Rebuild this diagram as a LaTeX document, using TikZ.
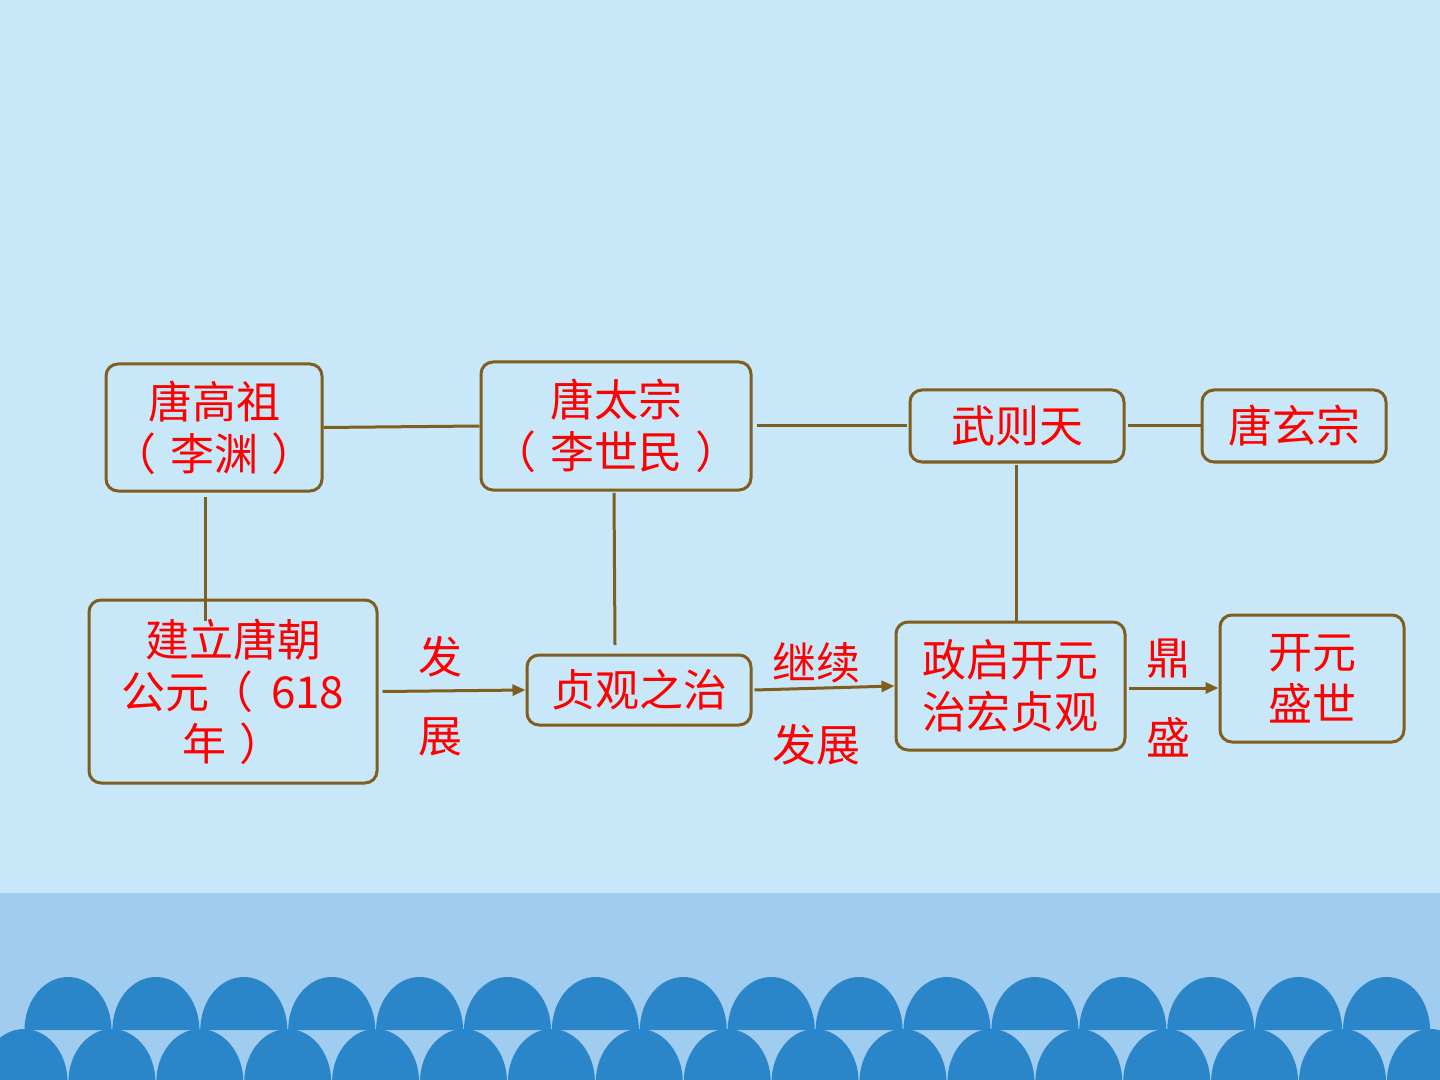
\documentclass[tikz,border=0pt]{standalone}
\usepackage{fontspec}
\newfontfamily\cjk{Noto Sans CJK SC}
\usetikzlibrary{arrows.meta}
\definecolor{bgtop}{HTML}{C8E8F9}
\definecolor{band}{HTML}{A0CDEF}
\definecolor{dome}{HTML}{2B86C9}
\definecolor{boxline}{HTML}{7F5F1F}
\definecolor{txtred}{HTML}{FF0000}
\newcommand{\pg}{\hspace{0.3em}}
\tikzset{
  box/.style={draw=boxline, line width=1.5pt, rounded corners=6pt, inner sep=0pt,
    align=center, text=txtred, font=\cjk\fontsize{22pt}{26pt}\selectfont},
  lbl/.style={inner sep=0pt, text=txtred, font=\cjk\fontsize{22pt}{26pt}\selectfont},
  conn/.style={draw=boxline, line width=1.5pt},
  arr/.style={conn, -{Triangle[length=6.5pt,width=5.5pt]}}
}
\begin{document}
\begin{tikzpicture}[x=0.5pt,y=-0.5pt]
\useasboundingbox (0,0) rectangle (1440,1080);
% background
\fill[bgtop] (0,0) rectangle (1440,893);
\fill[band] (0,893) rectangle (1440,1080);
\begin{scope}
\clip (0,0) rectangle (1440,1080);
\foreach \i in {0,...,15} {
  \fill[dome] ({68+87.9*\i-43.5},1030) arc[start angle=180,end angle=360,x radius=43.5,y radius=53] -- cycle;
}
\foreach \i in {-1,...,16} {
  \fill[dome] ({24+87.9*\i-43.5},1082) arc[start angle=180,end angle=360,x radius=43.5,y radius=53] -- cycle;
}
\end{scope}
% boxes
\node[box, minimum width=108pt, minimum height=63.5pt] (b1) at (214,427.5) {唐高祖\\（\pg 李渊\pg ）};
\node[box, minimum width=135pt, minimum height=64pt] (b2) at (616,426) {唐太宗\\（\pg 李世民\pg ）};
\node[box, minimum width=107pt, minimum height=36pt] (b3) at (1017,426) {武则天};
\node[box, minimum width=92pt, minimum height=36pt] (b4) at (1294,426) {唐玄宗};
\node[box, minimum width=144pt, minimum height=91.5pt] (b5) at (233,691.5) {建立唐朝\\公元（\hspace{0.4em}618\\年\pg ）};
\node[box, minimum width=112pt, minimum height=35pt] (b6) at (639,690) {贞观之治};
\node[box, minimum width=114.5pt, minimum height=64pt] (b7) at (1010.5,686) {政启开元\\治宏贞观};
\node[box, minimum width=92pt, minimum height=63.5pt] (b8) at (1312,678.5) {开元\\盛世};
% labels
\node[lbl] (l1) at (440,657) {发};
\node[lbl] (l2) at (440,737) {展};
\node[lbl] (l3) at (816,663) {继续};
\node[lbl] (l4) at (816,745) {发展};
\node[lbl] (l5) at (1168,659) {鼎};
\node[lbl] (l6) at (1168,737) {盛};
% coordinates for vertical connectors
\coordinate (v1a) at (205,497);
\coordinate (v1b) at (205,621);
\coordinate (v2a) at (614,493);
\coordinate (v2b) at (615,645);
\coordinate (v3a) at (1016,465);
\coordinate (v3b) at (1016,622);
% connectors
\draw[conn] (b1.east) -- (b2.west);
\draw[conn] ([xshift=2pt]b2.east) -- ([xshift=-1pt]b3.west);
\draw[conn] ([xshift=1pt]b3.east) -- (b4.west);
\draw[conn] (v1a) -- (v1b);
\draw[conn] (v2a) -- (v2b);
\draw[conn] (v3a) -- (v3b);
\draw[arr] ([xshift=2pt]b5.east) -- (b6.west);
\draw[arr] ([xshift=1pt]b6.east) -- (b7.west);
\draw[arr] ([xshift=1pt,yshift=-1pt]b7.east) -- ([yshift=-1pt]b7.east -| b8.west);
\end{tikzpicture}
\end{document}
